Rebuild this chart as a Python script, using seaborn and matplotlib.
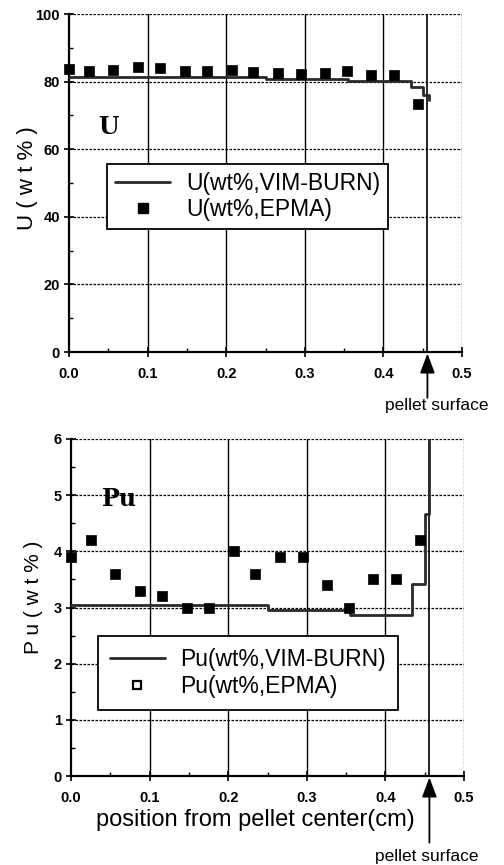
import numpy as np
import pandas as pd
import matplotlib
matplotlib.use("Agg")
import matplotlib.pyplot as plt
from matplotlib.lines import Line2D
from matplotlib.ticker import MultipleLocator, FormatStrFormatter
import seaborn as sns

# ---------------- data ----------------
epma_x = [0.0, 0.025, 0.056, 0.088, 0.116, 0.148, 0.175, 0.207,
          0.234, 0.266, 0.295, 0.326, 0.354, 0.384, 0.413, 0.444]
u_epma = [83.8, 83.1, 83.4, 84.2, 84.1, 83.2, 83.0, 83.4,
          82.8, 82.6, 82.2, 82.6, 83.2, 82.0, 82.0, 73.5]
pu_epma = [3.9, 4.2, 3.6, 3.3, 3.2, 3.0, 3.0, 4.0,
           3.6, 3.9, 3.9, 3.4, 3.0, 3.5, 3.5, 4.2]

u_vim_x = [0.0, 0.25, 0.355, 0.435, 0.450, 0.458]
u_vim_y = [81.3, 80.8, 80.3, 78.5, 76.0, 74.5]
pu_vim_x = [0.0, 0.25, 0.355, 0.434, 0.450, 0.456]
pu_vim_y = [3.04, 2.95, 2.86, 3.41, 4.67, 6.5]

pellet_surface = 0.456

u_labels = ["U(wt%,VIM-BURN)", "U(wt%,EPMA)"]
pu_labels = ["Pu(wt%,VIM-BURN)", "Pu(wt%,EPMA)"]

# ---------------- style ----------------
sns.set_style("white")
plt.rcParams["font.family"] = ["Liberation Sans", "DejaVu Sans"]
plt.rcParams["text.color"] = "black"
plt.rcParams["axes.labelcolor"] = "black"

W, H = 504, 865
fig = plt.figure(figsize=(W / 100, H / 100), dpi=100)

def box(l, t, r, b):
    return [l / W, 1 - b / H, (r - l) / W, (b - t) / H]

ax1 = fig.add_axes(box(69, 14, 462, 352))
ax2 = fig.add_axes(box(71, 439, 464, 776))

LINE_C = "#2a2a2a"

def style_axes(ax, ymax, ymajor, yminor):
    ax.set_xlim(0, 0.5)
    ax.set_ylim(0, ymax)
    ax.xaxis.set_major_locator(MultipleLocator(0.1))
    ax.xaxis.set_minor_locator(MultipleLocator(0.05))
    ax.yaxis.set_major_locator(MultipleLocator(ymajor))
    ax.yaxis.set_minor_locator(MultipleLocator(yminor))
    ax.xaxis.set_major_formatter(FormatStrFormatter("%.1f"))
    ax.tick_params(axis="both", which="major", direction="inout", length=7,
                   width=1.2, colors="black", labelsize=10.5,
                   bottom=True, left=True)
    ax.tick_params(axis="x", which="major", pad=7)
    ax.tick_params(axis="y", which="major", pad=3)
    ax.tick_params(axis="both", which="minor", direction="in", length=3,
                   width=1.0, colors="black", bottom=True, left=True)
    for lab in ax.get_xticklabels() + ax.get_yticklabels():
        lab.set_fontweight("bold")
    ax.grid(False)
    for xv in [0.1, 0.2, 0.3, 0.4]:
        ax.axvline(xv, color="black", lw=1.0, zorder=1)
    ax.axvline(pellet_surface, color="black", lw=1.2, zorder=1)
    for yv in np.arange(ymajor, ymax + 1e-9, ymajor):
        ax.axhline(yv, color="black", lw=0.9, ls=(0, (2, 1.2)), zorder=1)
    ax.axvline(0.5, color="black", lw=0.9, ls=(0, (2, 1.2)), zorder=1)
    for s in ["top", "right"]:
        ax.spines[s].set_visible(False)
    for s in ["left", "bottom"]:
        ax.spines[s].set_color("black")
        ax.spines[s].set_linewidth(1.6)
    ax.set_xlabel("")
    ax.set_ylabel("")

LEG_FS = 16.5

# ---------------- top: U ----------------
sns.lineplot(x=u_vim_x, y=u_vim_y, ax=ax1, drawstyle="steps-post",
             color=LINE_C, lw=2.0, estimator=None, sort=False, zorder=3)
sns.scatterplot(x=epma_x, y=u_epma, ax=ax1, marker="s", s=45,
                color="black", edgecolor="black", linewidth=0.5, zorder=4,
                clip_on=False)
style_axes(ax1, 100, 20, 10)
ax1.set_ylabel("U ( w t % )", fontsize=16)
ax1.yaxis.set_label_coords(-0.08, 0.515)
ax1.text(0.05, 66.5, "U", fontsize=17, fontweight="bold",
         family="DejaVu Serif", ha="center", va="center")

h1 = [Line2D([], [], color=LINE_C, lw=2.0),
      Line2D([], [], color="black", marker="s", ls="", markersize=7)]
leg1 = ax1.legend(h1, u_labels, loc="upper left",
                  bbox_to_anchor=(0.097, 0.556), fontsize=LEG_FS,
                  frameon=True, fancybox=False, edgecolor="black",
                  framealpha=1, handlelength=2.4, borderpad=0.35,
                  labelspacing=0.12, handletextpad=0.7, borderaxespad=0)
leg1.get_frame().set_linewidth(1.3)

# ---------------- bottom: Pu ----------------
sns.lineplot(x=pu_vim_x, y=pu_vim_y, ax=ax2, drawstyle="steps-post",
             color=LINE_C, lw=2.0, estimator=None, sort=False, zorder=3)
sns.scatterplot(x=epma_x, y=pu_epma, ax=ax2, marker="s", s=45,
                color="black", edgecolor="black", linewidth=0.5, zorder=4,
                clip_on=False)
style_axes(ax2, 6, 1, 0.5)
ax2.set_ylabel("P u ( w t % )", fontsize=15)
ax2.yaxis.set_label_coords(-0.072, 0.531)
ax2.set_xlabel("position from pellet center(cm)", fontsize=17)
ax2.xaxis.set_label_coords(0.468, -0.098)
ax2.text(0.061, 4.93, "Pu", fontsize=17, fontweight="bold",
         family="DejaVu Serif", ha="center", va="center")

h2 = [Line2D([], [], color=LINE_C, lw=2.0),
      Line2D([], [], color="black", marker="s", markerfacecolor="white",
             markeredgewidth=1.6, ls="", markersize=6)]
leg2 = ax2.legend(h2, pu_labels, loc="upper left",
                  bbox_to_anchor=(0.069, 0.415), fontsize=LEG_FS,
                  frameon=True, fancybox=False, edgecolor="black",
                  framealpha=1, handlelength=2.4, borderpad=0.5,
                  labelspacing=0.2, handletextpad=0.7, borderaxespad=0)
leg2.get_frame().set_linewidth(1.3)

# ---------------- pellet surface arrows ----------------
for ax, tail in ((ax1, -33), (ax2, -48)):
    ax.annotate("", xy=(pellet_surface, 0), xycoords=("data", "axes fraction"),
                xytext=(0, tail), textcoords="offset points",
                arrowprops=dict(arrowstyle="-|>,head_length=1.2,head_width=0.45",
                                color="black", lw=1.3, shrinkA=0, shrinkB=1),
                annotation_clip=False)

fig.text(437 / W, 1 - 405 / H, "pellet surface", fontsize=12.5,
         ha="center", va="center")
fig.text(427 / W, 1 - 857 / H, "pellet surface", fontsize=12.5,
         ha="center", va="center")

fig.savefig("out.png", dpi=100)
